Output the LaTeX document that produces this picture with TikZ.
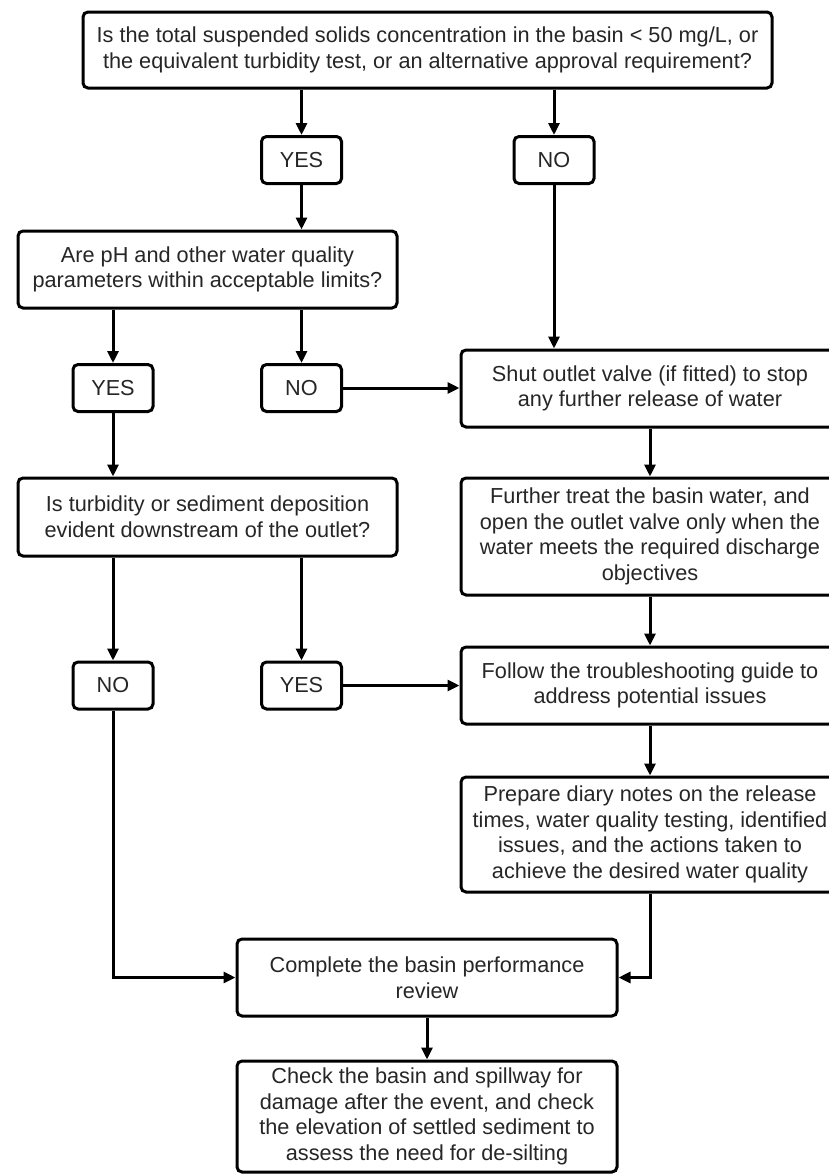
\documentclass[tikz,border=0pt]{standalone}
\usepackage{fontspec}
\setmainfont{Liberation Sans}
\usetikzlibrary{arrows.meta}
\begin{document}
\begin{tikzpicture}[x=1pt,y=-1pt,
  every node/.style={font=\fontsize{21.7}{25.7}\selectfont, text=black!85},
  box/.style={draw=black, line width=3pt, rounded corners=5pt, align=center, inner sep=0pt},
  small/.style={box, minimum width=80pt, minimum height=47pt},
  arr/.style={line width=3pt, -{Triangle[length=12pt,width=11pt]}}]
\useasboundingbox[fill=white] (0,0) rectangle (829,1175);
\begin{scope}
\clip (0,0) rectangle (829,1175);
\node[box, minimum width=689pt, minimum height=76pt] (q1) at (427.5,50)
  {Is the total suspended solids concentration in the basin < 50 mg/L, or\\the equivalent turbidity test, or an alternative approval requirement?};
\node[small] (yes1) at (301.5,160) {YES};
\node[small] (no1) at (554,160) {NO};
\node[box, minimum width=379pt, minimum height=77pt] (q2) at (207.5,269.5)
  {Are pH and other water quality\\parameters within acceptable limits?};
\node[small] (yes2) at (113,388) {YES};
\node[small] (no2) at (301.5,388) {NO};
\node[box, minimum width=378pt, minimum height=77pt] (shut) at (650,388.5)
  {Shut outlet valve (if fitted) to stop\\any further release of water};
\node[box, minimum width=379pt, minimum height=78pt] (q3) at (207.5,517)
  {Is turbidity or sediment deposition\\evident downstream of the outlet?};
\node[box, minimum width=378pt, minimum height=117pt] (further) at (650,536.5)
  {Further treat the basin water, and\\open the outlet valve only when the\\water meets the required discharge\\objectives};
\node[small] (no3) at (113,685.5) {NO};
\node[small] (yes3) at (301.5,685.5) {YES};
\node[box, minimum width=378pt, minimum height=77pt] (follow) at (650,685.5)
  {Follow the troubleshooting guide to\\address potential issues};
\node[box, minimum width=378pt, minimum height=115pt] (prepare) at (650,834.5)
  {Prepare diary notes on the release\\times, water quality testing, identified\\issues, and the actions taken to\\achieve the desired water quality};
\node[box, minimum width=380pt, minimum height=77pt] (complete) at (427,977.5)
  {Complete the basin performance\\review};
\node[box, minimum width=380pt, minimum height=111pt] (check) at (427,1116.5)
  {Check the basin and spillway for\\damage after the event, and check\\the elevation of settled sediment to\\assess the need for de-silting};

\draw[arr] (yes1 |- q1.south) -- (yes1.north);
\draw[arr] (no1 |- q1.south) -- (no1.north);
\draw[arr] (yes1.south) -- (yes1 |- q2.north);
\draw[arr] (no1.south) -- (no1 |- shut.north);
\draw[arr] (yes2 |- q2.south) -- (yes2.north);
\draw[arr] (no2 |- q2.south) -- (no2.north);
\draw[arr] (no2.east) -- (no2.east -| shut.west);
\draw[arr] (yes2.south) -- (yes2 |- q3.north);
\draw[arr] (shut.south) -- (further.north);
\draw[arr] (further.south) -- (follow.north);
\draw[arr] (no3 |- q3.south) -- (no3.north);
\draw[arr] (yes3 |- q3.south) -- (yes3.north);
\draw[arr] (yes3.east) -- (yes3.east -| follow.west);
\draw[arr] (follow.south) -- (prepare.north);
\draw[arr] (no3.south) |- (complete.west);
\draw[arr] (prepare.south) |- (complete.east);
\draw[arr] (complete.south) -- (check.north);
\end{scope}
\end{tikzpicture}
\end{document}
